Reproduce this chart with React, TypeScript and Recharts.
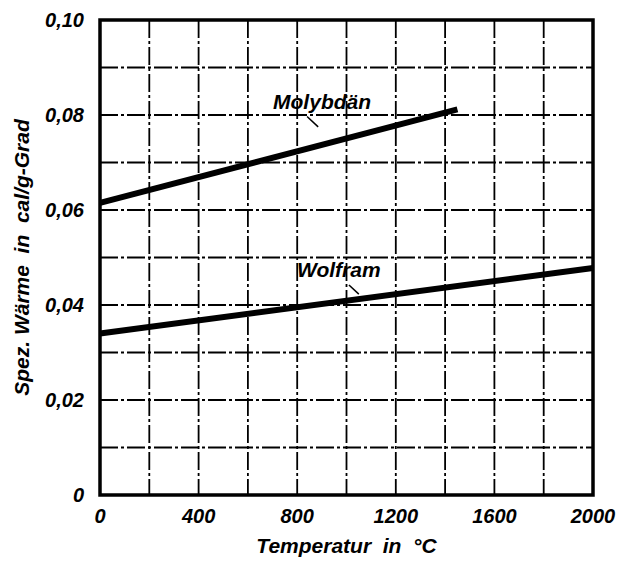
import { LineChart, Line, XAxis, YAxis, CartesianGrid, ReferenceArea, ReferenceLine, Label } from 'recharts';

const temps = [0, 1450];
const molybdaen = [0.0615, 0.0812];
const wolframTemps = [0, 2000];
const wolfram = [0.034, 0.0478];

const xTicks = [0, 400, 800, 1200, 1600, 2000];
const yTicks = [0, 0.02, 0.04, 0.06, 0.08, 0.1];
const xGrid = [200, 400, 600, 800, 1000, 1200, 1400, 1600, 1800];
const yGrid = [0.01, 0.02, 0.03, 0.04, 0.05, 0.06, 0.07, 0.08, 0.09];

const moData = temps.map((t, i) => ({ t, v: molybdaen[i] }));
const wData = wolframTemps.map((t, i) => ({ t, v: wolfram[i] }));

const FONT = '"Liberation Sans", Arial, sans-serif';
const tickStyle = { fill: '#000', fontFamily: FONT, fontSize: 20, fontWeight: 700, fontStyle: 'italic' };
const labelStyle = { fill: '#000', fontFamily: FONT, fontSize: 21, fontWeight: 700, fontStyle: 'italic' };
const NB = '\u00A0';

const fmtY = (v: number) => (v === 0 ? '0' : v.toFixed(2).replace('.', ','));

export default function App() {
  return (
    <div style={{ position: 'absolute', left: 0, top: 0, background: '#fff' }}>
      <LineChart width={631} height={562} margin={{ top: 20, right: 38, left: 30, bottom: 27 }}>
        <CartesianGrid
          stroke="#000"
          strokeWidth={1.8}
          strokeDasharray="18 3 3 3"
          horizontalValues={yGrid}
          verticalValues={xGrid}
        />
        <XAxis
          type="number"
          dataKey="t"
          domain={[0, 2000]}
          ticks={xTicks}
          tick={tickStyle}
          tickLine={false}
          axisLine={false}
          tickMargin={8}
          height={40}
          allowDuplicatedCategory={false}
        >
          <Label
            value={`Temperatur${NB}${NB}in${NB}${NB}°C`}
            position="insideBottom"
            offset={-18}
            style={labelStyle}
          />
        </XAxis>
        <YAxis
          type="number"
          dataKey="v"
          domain={[0, 0.1]}
          ticks={yTicks}
          tickFormatter={fmtY}
          tick={tickStyle}
          tickLine={false}
          axisLine={false}
          tickMargin={10}
          width={70}
        >
          <Label
            value={`Spez.${NB}Wärme${NB}${NB}in${NB}${NB}cal/g-Grad`}
            angle={-90}
            position="insideLeft"
            offset={-8}
            style={{ ...labelStyle, textAnchor: 'middle' }}
          />
        </YAxis>
        <ReferenceArea x1={0} x2={2000} y1={0} y2={0.1} fill="none" stroke="#000" strokeWidth={3.5} ifOverflow="visible" />
        <Line data={moData} dataKey="v" stroke="#000" strokeWidth={6} dot={false} isAnimationActive={false} />
        <Line data={wData} dataKey="v" stroke="#000" strokeWidth={6} dot={false} isAnimationActive={false} />
        <ReferenceLine
          segment={[{ x: 840, y: 0.0797 }, { x: 885, y: 0.0775 }]}
          stroke="#000"
          strokeWidth={1.5}
          ifOverflow="visible"
        >
          <Label
            value="Molybdän"
            content={({ viewBox }: any) => (
              <text x={viewBox.x - 34} y={viewBox.y - 7} {...labelStyle}>
                Molybdän
              </text>
            )}
          />
        </ReferenceLine>
        <ReferenceLine
          segment={[{ x: 1010, y: 0.0442 }, { x: 1050, y: 0.0423 }]}
          stroke="#000"
          strokeWidth={1.5}
          ifOverflow="visible"
        >
          <Label
            value="Wolfram"
            content={({ viewBox }: any) => (
              <text x={viewBox.x - 52} y={viewBox.y - 8} {...labelStyle}>
                Wolfram
              </text>
            )}
          />
        </ReferenceLine>
      </LineChart>
    </div>
  );
}
